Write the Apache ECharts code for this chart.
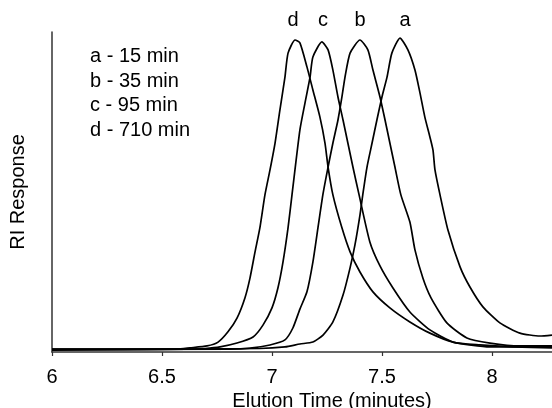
<!DOCTYPE html>
<html>
<head>
<meta charset="utf-8">
<title>RI Response</title>
<script src="https://cdn.jsdelivr.net/npm/echarts@6/dist/echarts.min.js"></script>
<style>
  html,body{margin:0;padding:0;background:#fff;}
  #chart{width:552px;height:408px;}
</style>
</head>
<body>
<div id="chart"></div>
<script>
	// x = elution time (min), y = detector response (relative)
	var curveA = [[6.0,0.6],[6.945,1.1],[7.059,1.6],[7.127,2.5],[7.186,3.1],[7.232,5.3],[7.277,9.4],[7.323,17.8],[7.355,26.3],[7.377,33.4],[7.40,42.8],[7.414,49.7],[7.432,57.8],[7.455,65.3],[7.477,72.5],[7.50,79.7],[7.523,85.9],[7.545,93.4],[7.582,98.1],[7.618,94.4],[7.65,88.1],[7.673,80.9],[7.695,73.4],[7.718,67.2],[7.732,63.1],[7.741,56.9],[7.764,49.1],[7.80,38.1],[7.855,26.6],[7.90,20.3],[7.959,14.1],[8.036,9.1],[8.127,5.9],[8.218,5.0],[8.273,5.3]];
	var curveB = [[6.0,0.8],[6.809,0.9],[6.90,1.2],[6.991,2.2],[7.059,3.8],[7.095,7.5],[7.127,13.4],[7.159,18.8],[7.186,28.1],[7.209,38.8],[7.232,49.4],[7.255,57.8],[7.277,65.3],[7.30,72.5],[7.318,79.7],[7.332,85.9],[7.355,93.4],[7.40,97.5],[7.436,94.4],[7.459,88.1],[7.491,79.7],[7.514,72.5],[7.536,65.3],[7.559,57.8],[7.586,49.1],[7.627,40.6],[7.65,31.9],[7.686,23.1],[7.723,16.9],[7.795,9.1],[7.886,4.4],[7.991,2.8],[8.127,1.9],[8.273,1.9]];
	var curveC = [[6.0,0.8],[6.627,0.9],[6.695,1.1],[6.764,1.6],[6.841,2.8],[6.914,4.7],[6.959,8.4],[7.0,13.8],[7.027,20.0],[7.05,28.1],[7.073,38.8],[7.091,49.1],[7.127,69.4],[7.15,77.8],[7.173,85.9],[7.186,92.2],[7.227,96.9],[7.255,94.4],[7.277,88.1],[7.30,79.7],[7.323,72.5],[7.345,65.3],[7.368,57.8],[7.395,49.4],[7.445,34.4],[7.491,26.9],[7.55,20.0],[7.627,12.5],[7.718,6.9],[7.823,3.1],[7.945,2.2],[8.095,1.6],[8.273,1.3]];
	var curveD = [[6.0,0.9],[6.568,0.9],[6.627,1.3],[6.705,1.9],[6.755,3.1],[6.80,6.3],[6.841,10.6],[6.877,16.9],[6.90,23.1],[6.923,31.3],[6.945,38.8],[6.968,49.1],[6.991,56.9],[7.014,65.3],[7.036,75.6],[7.059,85.9],[7.073,93.4],[7.105,97.5],[7.127,96.6],[7.159,89.1],[7.186,81.9],[7.218,73.4],[7.241,65.3],[7.255,57.8],[7.277,49.1],[7.318,38.8],[7.355,31.3],[7.40,25.0],[7.459,18.8],[7.536,13.8],[7.627,9.4],[7.718,5.9],[7.823,3.1],[7.991,1.6],[8.273,1.6]];

	var seriesNames = ['a','b','c','d'];
	var legendLines = ['a - 15 min','b - 35 min','c - 95 min','d - 710 min'];
	var xTicks = [6, 6.5, 7, 7.5, 8];

	var myChart = echarts.init(document.getElementById('chart'));
	var font = 'Liberation Sans, Arial, Helvetica, sans-serif';

	var series = [];
	var curves = [curveA, curveB, curveC, curveD];
	for (var i = 0; i < curves.length; i++) {
		series.push({
			name: seriesNames[i],
			type: 'line',
			data: curves[i],
			showSymbol: false,
			smooth: 0.2,
			lineStyle: {color: '#000', width: 1.7},
			z: 3,
			silent: true
		});
	}

	var graphics = [];
	for (var j = 0; j < legendLines.length; j++) {
		graphics.push({
			type: 'text',
			x: 90,
			y: 56.5 + j * 24.6,
			style: {text: legendLines[j], fill: '#000', font: '20px ' + font, verticalAlign: 'middle'}
		});
	}
	// peak letters above each curve
	var peakLabelX = {a: 405, b: 360, c: 323, d: 293};
	for (var k = 0; k < seriesNames.length; k++) {
		graphics.push({
			type: 'text',
			x: peakLabelX[seriesNames[k]],
			y: 20.5,
			style: {text: seriesNames[k], fill: '#000', font: '20px ' + font, align: 'center', verticalAlign: 'middle'}
		});
	}

	var option = {
		animation: false,
		backgroundColor: '#fff',
		grid: {left: 52, right: 0, top: 32, bottom: 56, containLabel: false, outerBoundsMode: 'none'},
		xAxis: {
			type: 'value',
			min: 6,
			max: 8.273,
			interval: 0.5,
			name: 'Elution Time (minutes)',
			nameLocation: 'middle',
			nameGap: 35,
			nameTextStyle: {color: '#000', fontSize: 20, fontFamily: font, padding: [0, 0, 0, 60]},
			axisLine: {show: true, lineStyle: {color: '#333', width: 1.5}},
			axisTick: {show: true, length: 4, lineStyle: {color: '#333', width: 1.2}},
			axisLabel: {
				color: '#000', fontSize: 20, fontFamily: font, margin: 15, showMaxLabel: false,
				formatter: function(v){ return xTicks.indexOf(v) >= 0 ? String(v) : ''; }
			},
			splitLine: {show: false}
		},
		yAxis: {
			type: 'value',
			min: 0,
			max: 100,
			name: 'RI Response',
			nameLocation: 'middle',
			nameGap: 24,
			nameTextStyle: {color: '#000', fontSize: 20, fontFamily: font},
			axisLine: {show: true, lineStyle: {color: '#333', width: 1.5}},
			axisTick: {show: false},
			axisLabel: {show: false},
			splitLine: {show: false}
		},
		graphic: graphics,
		series: series
	};
	myChart.setOption(option);
</script>
</body>
</html>
